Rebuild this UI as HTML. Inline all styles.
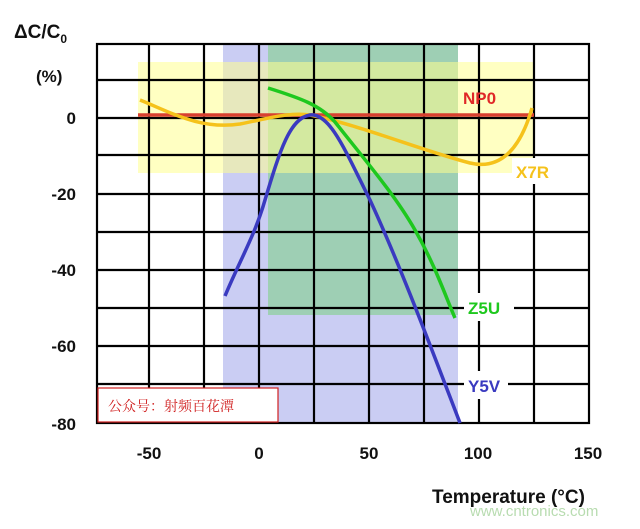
<!DOCTYPE html>
<html><head><meta charset="utf-8"><style>
html,body{margin:0;padding:0;background:#fff;}
svg text{font-family:"Liberation Sans",Arial,sans-serif;font-weight:bold;}
</style></head><body>
<svg width="640" height="524" viewBox="0 0 640 524" xmlns="http://www.w3.org/2000/svg">
<rect width="640" height="524" fill="#fff"/>
<!-- shaded regions -->
<rect x="223" y="44" width="235" height="379" fill="#b4b8ee" opacity="0.7"/>
<rect x="268" y="44" width="190" height="271" fill="#8fcf9f" opacity="0.75"/>
<rect x="138" y="62" width="396" height="111" fill="#ffff90" opacity="0.55"/>
<!-- grid -->
<g stroke="#000" stroke-width="2.2" fill="none">
<rect x="97" y="44" width="492" height="379"/>
<line x1="149" y1="44" x2="149" y2="423"/>
<line x1="204" y1="44" x2="204" y2="423"/>
<line x1="259" y1="44" x2="259" y2="423"/>
<line x1="314" y1="44" x2="314" y2="423"/>
<line x1="369" y1="44" x2="369" y2="423"/>
<line x1="424" y1="44" x2="424" y2="423"/>
<line x1="479" y1="44" x2="479" y2="423"/>
<line x1="534" y1="44" x2="534" y2="423"/>
<line x1="97" y1="80" x2="589" y2="80"/>
<line x1="97" y1="118" x2="589" y2="118"/>
<line x1="97" y1="155" x2="589" y2="155"/>
<line x1="97" y1="194" x2="589" y2="194"/>
<line x1="97" y1="232" x2="589" y2="232"/>
<line x1="97" y1="270" x2="589" y2="270"/>
<line x1="97" y1="308" x2="589" y2="308"/>
<line x1="97" y1="346" x2="589" y2="346"/>
<line x1="97" y1="384" x2="589" y2="384"/>
</g>
<!-- label backgrounds -->
<rect x="512" y="158" width="52" height="26" fill="#fff"/>
<rect x="464" y="293" width="50" height="28" fill="#fff"/>
<rect x="464" y="371" width="44" height="28" fill="#fff"/>
<!-- curves -->
<line x1="138" y1="115" x2="534" y2="115" stroke="#d84030" stroke-width="3.5"/>
<path d="M140,100 C170,112 200,130 240,124 C270,118 290,112 310,115 C360,125 420,150 470,163 C500,170 520,150 532,108" stroke="#f5c21b" stroke-width="3.5" fill="none"/>
<path d="M268,88 C300,98 320,105 335,122 C365,160 395,195 415,230 C435,265 445,295 455,318" stroke="#1ec81e" stroke-width="3.5" fill="none"/>
<path d="M225,296 C240,260 255,235 265,200 C280,150 290,118 310,115 C330,113 345,150 370,200 C400,265 430,345 460,423" stroke="#3a3ac0" stroke-width="3.5" fill="none"/>
<!-- series labels -->
<text x="463" y="104" font-size="17" fill="#e02828">NP0</text>
<text x="516" y="178" font-size="17" fill="#f5c21b">X7R</text>
<text x="468" y="314" font-size="17" fill="#1ec81e">Z5U</text>
<text x="468" y="392" font-size="17" fill="#3a3ac0">Y5V</text>
<!-- y axis -->
<text x="14" y="38" font-size="19" fill="#111">ΔC/C<tspan font-size="12" dy="5">0</tspan></text>
<text x="36" y="82" font-size="17" fill="#111">(%)</text>
<g font-size="17" fill="#111" text-anchor="end">
<text x="76" y="124">0</text>
<text x="76" y="200">-20</text>
<text x="76" y="276">-40</text>
<text x="76" y="352">-60</text>
<text x="76" y="430">-80</text>
</g>
<g font-size="17" fill="#111" text-anchor="middle">
<text x="149" y="459">-50</text>
<text x="259" y="459">0</text>
<text x="369" y="459">50</text>
<text x="478" y="459">100</text>
<text x="588" y="459">150</text>
</g>
<text x="432" y="503" font-size="19" fill="#111">Temperature (°C)</text>
<text x="470" y="516" font-size="15" fill="#b8dcb0" style="font-weight:normal">www.cntronics.com</text>
<!-- watermark box -->
<rect x="98" y="388" width="180" height="34" fill="#fff" stroke="#d02020" stroke-width="1.2"/>
<text x="108" y="411" font-size="14" fill="#d02020" style="font-family:'Noto Serif CJK SC','Noto Sans CJK SC',serif;font-weight:normal">公众号：射频百花潭</text>
</svg>
</body></html>
